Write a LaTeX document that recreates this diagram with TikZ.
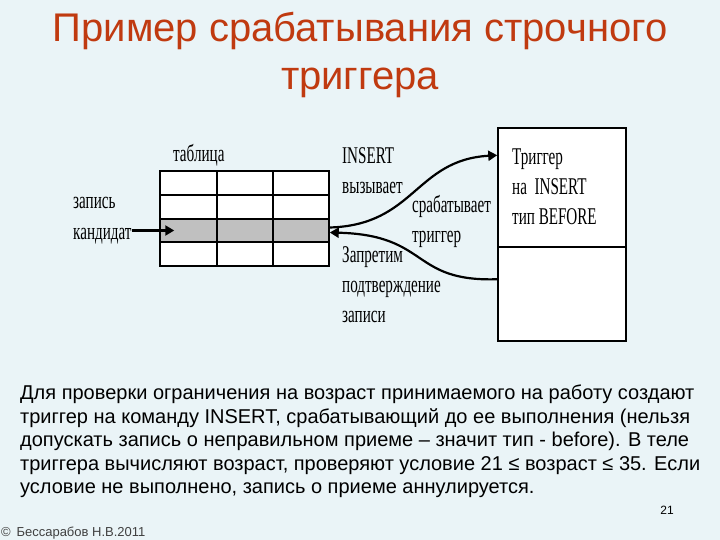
\documentclass[tikz,border=0pt]{standalone}
\usepackage{fontspec}
\setmainfont{Liberation Serif}
\newfontfamily\sansfont{Liberation Sans}
\newfontfamily\narrowserif[FakeStretch=0.63]{Liberation Serif}
\usetikzlibrary{arrows.meta,calc,positioning}
\definecolor{slidebg}{HTML}{EAF4F7}
\definecolor{titlered}{HTML}{C03A10}
\definecolor{rowgray}{HTML}{C0C0C0}
\tikzset{
  lbl/.style={font=\narrowserif\fontsize{24}{30}\selectfont,align=left,inner sep=0pt},
  tblbox/.style={draw,line width=1.5pt,fill=white,minimum width=169pt,minimum height=95pt,inner sep=0pt},
  rowsel/.style={draw,line width=1.5pt,fill=rowgray,minimum width=169pt,minimum height=23pt,inner sep=0pt},
  trigbox/.style={draw,line width=1.5pt,fill=white,minimum width=128pt,minimum height=213pt,inner sep=0pt},
  arr/.style={line width=2.2pt,-{Triangle[length=9pt,width=10pt]}}
}

\begin{document}
\begin{tikzpicture}[x=1pt,y=-1pt]
  \fill[slidebg] (0,0) rectangle (720,540);
  \useasboundingbox (0,0) rectangle (720,540);

  % title
  \node[font=\sansfont\fontsize{40}{48}\selectfont,text=titlered,align=center] (title) at (360,55)
    {Пример срабатывания строчного\\триггера};

  % table with the candidate row
  \node[tblbox] (tbl) at (244.5,218.5) {};
  \node[rowsel] (cand) at (244.5,230.5) {};
  \draw[line width=1.5pt] (tbl.west |- 0,195) -- (tbl.east |- 0,195);
  \draw[line width=1.5pt] (tbl.west |- 0,219) -- (tbl.east |- 0,219);
  \draw[line width=1.5pt] (217,0 |- tbl.north) -- (217,0 |- tbl.south);
  \draw[line width=1.5pt] (273,0 |- tbl.north) -- (273,0 |- tbl.south);
  \node[lbl,anchor=base west] (tname) at (173,162) {таблица};
  \node[lbl,anchor=base west] (rec1) at (73,208) {запись};
  \node[lbl,anchor=base west] (rec2) at (73,240) {кандидат};

  % trigger box
  \node[trigbox] (trig) at (562,234.5) {};
  \draw[line width=1.5pt] (trig.west |- 0,247) -- (trig.east |- 0,247);
  \node[lbl,anchor=north west] (tdesc) at (512,149) {Триггер\\на \ INSERT\\тип BEFORE};

  % labels near the curves
  \node[lbl,anchor=north west] (ins) at (342,147) {INSERT\\вызывает};
  \node[lbl,anchor=north west] (fire) at (412,195) {срабатывает\\триггер};
  \node[lbl,anchor=north west] (deny) at (342,246.5) {Запретим\\подтверждение\\записи};

  % connectors
  \draw[arr] (rec2.east |- cand.west) -- ([xshift=15pt]cand.west);
  \draw[arr] ([yshift=3pt]cand.east) .. controls (415,225) and (415,160) .. ([yshift=-28pt]trig.north west);
  \draw[arr] ([yshift=-152pt]trig.north west) .. controls (410,282) and (430,235) .. ([yshift=-2pt]cand.east);

  % text under the picture
  \node[font=\sansfont\fontsize{20}{23.5}\selectfont,align=left,anchor=north west,inner sep=0pt] (note) at (20,385)
    {Для проверки ограничения на возраст принимаемого на работу создают\\
     триггер на команду INSERT, срабатывающий до ее выполнения (нельзя\\
     допускать запись о неправильном приеме – значит тип - before). В теле\\
     триггера вычисляют возраст, проверяют условие 21 ≤ возраст ≤ 35. Если\\
     условие не выполнено, запись о приеме аннулируется.};
  \node[font=\sansfont\fontsize{12}{14}\selectfont] (page) at (667,510) {21};
  \node[font=\sansfont\fontsize{13}{15}\selectfont,text=black!75,anchor=west,inner sep=0pt] (foot) at (1,533)
    {©\, Бессарабов Н.В.2011};
\end{tikzpicture}
\end{document}
